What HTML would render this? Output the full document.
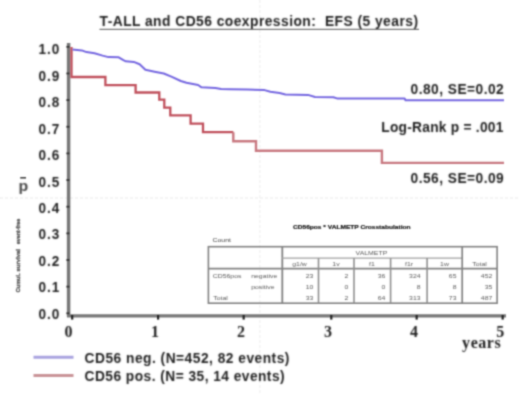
<!DOCTYPE html>
<html><head><meta charset="utf-8"><style>
html,body{margin:0;padding:0;background:#fff;}
body{width:520px;height:394px;overflow:hidden;}
svg{display:block;font-family:"Liberation Sans",sans-serif;}
</style></head><body>
<svg width="520" height="394" viewBox="0 0 520 394">
<defs><filter id="gb" x="0" y="0" width="520" height="394" filterUnits="userSpaceOnUse" primitiveUnits="userSpaceOnUse" color-interpolation-filters="sRGB"><feConvolveMatrix order="5" kernelMatrix="0.00009 0.00198 0.00548 0.00198 0.00009 0.00198 0.04220 0.11707 0.04220 0.00198 0.00548 0.11707 0.32480 0.11707 0.00548 0.00198 0.04220 0.11707 0.04220 0.00198 0.00009 0.00198 0.00548 0.00198 0.00009" edgeMode="duplicate"/></filter><filter id="tb" x="0" y="0" width="520" height="394" filterUnits="userSpaceOnUse" primitiveUnits="userSpaceOnUse" color-interpolation-filters="sRGB"><feConvolveMatrix order="5" kernelMatrix="0.00000 0.00003 0.00021 0.00003 0.00000 0.00003 0.01133 0.08373 0.01133 0.00003 0.00021 0.08373 0.61869 0.08373 0.00021 0.00003 0.01133 0.08373 0.01133 0.00003 0.00000 0.00003 0.00021 0.00003 0.00000" edgeMode="duplicate"/></filter></defs>
<g filter="url(#gb)">
<rect width="520" height="394" fill="#fff"/>
<line x1="0" y1="198" x2="520" y2="198" stroke="#e9e9e9" stroke-width="1.2" stroke-dasharray="3 2"/>
<line x1="259.8" y1="0" x2="259.8" y2="394" stroke="#f0f0f0" stroke-width="1.2" stroke-dasharray="3 2"/>
<line x1="99.5" y1="29.4" x2="419" y2="29.4" stroke="#777" stroke-width="1.4"/>
<line x1="68.6" y1="43" x2="68.6" y2="317" stroke="#787878" stroke-width="3.5"/>
<line x1="67" y1="315.9" x2="506" y2="315.9" stroke="#787878" stroke-width="3.2"/>
<line x1="66.4" y1="46.80" x2="69.4" y2="46.80" stroke="#333" stroke-width="1.8"/>
<line x1="66.4" y1="73.45" x2="69.4" y2="73.45" stroke="#333" stroke-width="1.8"/>
<line x1="66.4" y1="100.10" x2="69.4" y2="100.10" stroke="#333" stroke-width="1.8"/>
<line x1="66.4" y1="126.75" x2="69.4" y2="126.75" stroke="#333" stroke-width="1.8"/>
<line x1="66.4" y1="153.40" x2="69.4" y2="153.40" stroke="#333" stroke-width="1.8"/>
<line x1="66.4" y1="180.05" x2="69.4" y2="180.05" stroke="#333" stroke-width="1.8"/>
<line x1="66.4" y1="206.70" x2="69.4" y2="206.70" stroke="#333" stroke-width="1.8"/>
<line x1="66.4" y1="233.35" x2="69.4" y2="233.35" stroke="#333" stroke-width="1.8"/>
<line x1="66.4" y1="260.00" x2="69.4" y2="260.00" stroke="#333" stroke-width="1.8"/>
<line x1="66.4" y1="286.65" x2="69.4" y2="286.65" stroke="#333" stroke-width="1.8"/>
<line x1="66.4" y1="313.30" x2="69.4" y2="313.30" stroke="#333" stroke-width="1.8"/>
<line x1="72.20" y1="315" x2="72.20" y2="319.6" stroke="#222" stroke-width="2.2"/>
<line x1="158.10" y1="315" x2="158.10" y2="319.6" stroke="#222" stroke-width="2.2"/>
<line x1="243.65" y1="315" x2="243.65" y2="319.6" stroke="#222" stroke-width="2.2"/>
<line x1="331.30" y1="315" x2="331.30" y2="319.6" stroke="#222" stroke-width="2.2"/>
<line x1="416.65" y1="315" x2="416.65" y2="319.6" stroke="#222" stroke-width="2.2"/>
<line x1="502.65" y1="315" x2="502.65" y2="319.6" stroke="#222" stroke-width="2.2"/>
<line x1="20.2" y1="177.8" x2="26" y2="177.8" stroke="#444" stroke-width="1.6"/>
<g transform="translate(19.8,292.2) rotate(-90)"><text x="0" y="0" font-size="5.5" font-weight="700" fill="#666" stroke="#666" stroke-width="0.45">Cumul.</text></g>
<g transform="translate(19.8,271.5) rotate(-90)"><text x="0" y="0" font-size="5.95" font-weight="700" fill="#666" stroke="#666" stroke-width="0.45">survival</text></g>
<g transform="translate(19.8,244.2) rotate(-90)"><text x="0" y="0" font-size="5.3" font-weight="700" fill="#666" stroke="#666" stroke-width="0.45">event-free</text></g>
<path d="M71.5,47 V77 H105.4 V85.2 H135.6 V92.5 H159.3 V99.6 H164.3 V107.6 H170.3 V115.4 H190.6 V123.7 H203 V132.2 H233.3" fill="none" stroke="#c0505c" stroke-width="2.3"/>
<path d="M233.3,132.2 V141.2 H256 V150.8 H381.9 V162.9 H504" fill="none" stroke="#c87880" stroke-width="2.4"/>
<path d="M72.5,49.5 L81.8,50.4 L86.5,52.1 L94.5,53.3 L102.6,55.6 L108.4,57.1 L118.7,57.3 L123.4,60.2 L125.8,61.3 L133.8,61.9 L139.6,64.2 L145.4,69.8 L154.6,71.7 L163.8,73.5 L171.9,76.9 L180.8,81 L186.5,82.7 L198.1,85 L201.5,87.3 L215.4,87.9 L221.1,89 L230,89.2 L247.3,89.5 L264.6,90.1 L270.4,91.8 L279.6,93 L285.4,94.5 L308,94.9 L315,97 L333.4,97.2 L337,98.4 L404.6,98.4 L405.5,100.3 L504,100.3" fill="none" stroke="#7466e0" stroke-width="2.0" stroke-linejoin="round"/>
<line x1="33.5" y1="357.3" x2="73.5" y2="357.3" stroke="#aaa4e0" stroke-width="3"/>
<line x1="33.5" y1="375.4" x2="73.5" y2="375.4" stroke="#c99498" stroke-width="3"/>
<text transform="translate(212.5,242) scale(1,0.85)" font-size="6.9" fill="#444">Count</text>
<text transform="translate(293,229.0) scale(1,0.85)" font-size="6.6" fill="#111" font-weight="700" stroke="#111" stroke-width="0.2">CD56pos * VALMETP Crosstabulation</text>
<rect x="208.4" y="246.7" width="288.7" height="56.5" fill="none" stroke="#828282" stroke-width="1.6"/>
<line x1="208.4" y1="268.6" x2="497.1" y2="268.6" stroke="#828282" stroke-width="1.8"/>
<line x1="282.3" y1="246.7" x2="282.3" y2="303.2" stroke="#828282" stroke-width="1.8"/>
<line x1="282" y1="258.1" x2="462.2" y2="258.1" stroke="#a0a0a0" stroke-width="1.4"/>
<line x1="318.5" y1="258.1" x2="318.5" y2="303.2" stroke="#909090" stroke-width="1.6"/>
<line x1="354" y1="258.1" x2="354" y2="303.2" stroke="#909090" stroke-width="1.6"/>
<line x1="390.6" y1="258.1" x2="390.6" y2="303.2" stroke="#909090" stroke-width="1.6"/>
<line x1="427.1" y1="258.1" x2="427.1" y2="303.2" stroke="#909090" stroke-width="1.6"/>
<line x1="462.2" y1="247" x2="462.2" y2="303.2" stroke="#828282" stroke-width="1.7"/>
<text transform="translate(355.6,255) scale(1,0.85)" font-size="6.9" fill="#5a5a5a">VALMETP</text>
<text transform="translate(299.5,265.5) scale(1,0.85)" font-size="6.9" fill="#5a5a5a" text-anchor="middle">g1/w</text>
<text transform="translate(336,265.5) scale(1,0.85)" font-size="6.9" fill="#5a5a5a" text-anchor="middle">1v</text>
<text transform="translate(372,265.5) scale(1,0.85)" font-size="6.9" fill="#5a5a5a" text-anchor="middle">f1</text>
<text transform="translate(409,265.5) scale(1,0.85)" font-size="6.9" fill="#5a5a5a" text-anchor="middle">f1r</text>
<text transform="translate(444.5,265.5) scale(1,0.85)" font-size="6.9" fill="#5a5a5a" text-anchor="middle">1w</text>
<text transform="translate(479.6,266) scale(1,0.85)" font-size="6.9" fill="#5a5a5a" text-anchor="middle">Total</text>
<text transform="translate(212.7,277.7) scale(1,0.85)" font-size="6.9" fill="#5a5a5a">CD56pos</text>
<text transform="translate(251.2,277.7) scale(1,0.85)" font-size="6.9" fill="#5a5a5a">negative</text>
<text transform="translate(251.2,288.8) scale(1,0.85)" font-size="6.9" fill="#5a5a5a">positive</text>
<text transform="translate(213.3,299.8) scale(1,0.85)" font-size="6.9" fill="#5a5a5a">Total</text>
<text transform="translate(313.3,277.7) scale(1,0.85)" font-size="6.9" fill="#5a5a5a" text-anchor="end">23</text>
<text transform="translate(348.3,277.7) scale(1,0.85)" font-size="6.9" fill="#5a5a5a" text-anchor="end">2</text>
<text transform="translate(385.3,277.7) scale(1,0.85)" font-size="6.9" fill="#5a5a5a" text-anchor="end">36</text>
<text transform="translate(420.6,277.7) scale(1,0.85)" font-size="6.9" fill="#5a5a5a" text-anchor="end">324</text>
<text transform="translate(456.5,277.7) scale(1,0.85)" font-size="6.9" fill="#5a5a5a" text-anchor="end">65</text>
<text transform="translate(492.3,277.7) scale(1,0.85)" font-size="6.9" fill="#5a5a5a" text-anchor="end">452</text>
<text transform="translate(313.3,288.9) scale(1,0.85)" font-size="6.9" fill="#5a5a5a" text-anchor="end">10</text>
<text transform="translate(348.3,288.9) scale(1,0.85)" font-size="6.9" fill="#5a5a5a" text-anchor="end">0</text>
<text transform="translate(385.3,288.9) scale(1,0.85)" font-size="6.9" fill="#5a5a5a" text-anchor="end">0</text>
<text transform="translate(420.6,288.9) scale(1,0.85)" font-size="6.9" fill="#5a5a5a" text-anchor="end">8</text>
<text transform="translate(456.5,288.9) scale(1,0.85)" font-size="6.9" fill="#5a5a5a" text-anchor="end">8</text>
<text transform="translate(492.3,288.9) scale(1,0.85)" font-size="6.9" fill="#5a5a5a" text-anchor="end">35</text>
<text transform="translate(313.3,300.1) scale(1,0.85)" font-size="6.9" fill="#5a5a5a" text-anchor="end">33</text>
<text transform="translate(348.3,300.1) scale(1,0.85)" font-size="6.9" fill="#5a5a5a" text-anchor="end">2</text>
<text transform="translate(385.3,300.1) scale(1,0.85)" font-size="6.9" fill="#5a5a5a" text-anchor="end">64</text>
<text transform="translate(420.6,300.1) scale(1,0.85)" font-size="6.9" fill="#5a5a5a" text-anchor="end">313</text>
<text transform="translate(456.5,300.1) scale(1,0.85)" font-size="6.9" fill="#5a5a5a" text-anchor="end">73</text>
<text transform="translate(492.3,300.1) scale(1,0.85)" font-size="6.9" fill="#5a5a5a" text-anchor="end">487</text>
<g filter="url(#tb)">
<text transform="translate(99.50,26.10) scale(1.0,1)" font-size="13.8" font-weight="700" textLength="318.50" lengthAdjust="spacing" fill="#1c1c1c" xml:space="preserve">T-ALL and CD56 coexpression:  EFS (5 years)</text>
<text transform="translate(59.40,54.40) scale(0.95,1)" font-size="14.3" font-weight="700" textLength="22.11" lengthAdjust="spacing" fill="#1c1c1c" text-anchor="end" xml:space="preserve">1.0</text>
<text transform="translate(59.40,80.84) scale(0.95,1)" font-size="14.3" font-weight="700" textLength="22.11" lengthAdjust="spacing" fill="#1c1c1c" text-anchor="end" xml:space="preserve">0.9</text>
<text transform="translate(59.40,107.28) scale(0.95,1)" font-size="14.3" font-weight="700" textLength="22.11" lengthAdjust="spacing" fill="#1c1c1c" text-anchor="end" xml:space="preserve">0.8</text>
<text transform="translate(59.40,133.72) scale(0.95,1)" font-size="14.3" font-weight="700" textLength="22.11" lengthAdjust="spacing" fill="#1c1c1c" text-anchor="end" xml:space="preserve">0.7</text>
<text transform="translate(59.40,160.16) scale(0.95,1)" font-size="14.3" font-weight="700" textLength="22.11" lengthAdjust="spacing" fill="#1c1c1c" text-anchor="end" xml:space="preserve">0.6</text>
<text transform="translate(59.40,186.60) scale(0.95,1)" font-size="14.3" font-weight="700" textLength="22.11" lengthAdjust="spacing" fill="#1c1c1c" text-anchor="end" xml:space="preserve">0.5</text>
<text transform="translate(59.40,213.04) scale(0.95,1)" font-size="14.3" font-weight="700" textLength="22.11" lengthAdjust="spacing" fill="#1c1c1c" text-anchor="end" xml:space="preserve">0.4</text>
<text transform="translate(59.40,239.48) scale(0.95,1)" font-size="14.3" font-weight="700" textLength="22.11" lengthAdjust="spacing" fill="#1c1c1c" text-anchor="end" xml:space="preserve">0.3</text>
<text transform="translate(59.40,265.92) scale(0.95,1)" font-size="14.3" font-weight="700" textLength="22.11" lengthAdjust="spacing" fill="#1c1c1c" text-anchor="end" xml:space="preserve">0.2</text>
<text transform="translate(59.40,292.36) scale(0.95,1)" font-size="14.3" font-weight="700" textLength="22.11" lengthAdjust="spacing" fill="#1c1c1c" text-anchor="end" xml:space="preserve">0.1</text>
<text transform="translate(59.40,318.80) scale(0.95,1)" font-size="14.3" font-weight="700" textLength="22.11" lengthAdjust="spacing" fill="#1c1c1c" text-anchor="end" xml:space="preserve">0.0</text>
<text transform="translate(68.60,336.70) scale(1.0,1)" font-family="Liberation Serif, serif" font-size="16" font-weight="700" fill="#1c1c1c" text-anchor="middle" xml:space="preserve">0</text>
<text transform="translate(155.00,336.70) scale(1.0,1)" font-family="Liberation Serif, serif" font-size="16" font-weight="700" fill="#1c1c1c" text-anchor="middle" xml:space="preserve">1</text>
<text transform="translate(241.00,336.70) scale(1.0,1)" font-family="Liberation Serif, serif" font-size="16" font-weight="700" fill="#1c1c1c" text-anchor="middle" xml:space="preserve">2</text>
<text transform="translate(327.90,336.70) scale(1.0,1)" font-family="Liberation Serif, serif" font-size="16" font-weight="700" fill="#1c1c1c" text-anchor="middle" xml:space="preserve">3</text>
<text transform="translate(414.10,336.70) scale(1.0,1)" font-family="Liberation Serif, serif" font-size="16" font-weight="700" fill="#1c1c1c" text-anchor="middle" xml:space="preserve">4</text>
<text transform="translate(500.20,336.70) scale(1.0,1)" font-family="Liberation Serif, serif" font-size="16" font-weight="700" fill="#1c1c1c" text-anchor="middle" xml:space="preserve">5</text>
<text transform="translate(500.70,347.90) scale(1.0,1)" font-family="Liberation Serif, serif" font-size="16" font-weight="700" textLength="38.60" lengthAdjust="spacing" fill="#1c1c1c" text-anchor="end" xml:space="preserve">years</text>
<text transform="translate(18.5,191) scale(1.1,1)" font-size="14.5" font-weight="700" fill="#4a4a4a">p</text>
<text transform="translate(503.70,94.10) scale(0.95,1)" font-size="14.5" font-weight="700" textLength="98.00" lengthAdjust="spacing" fill="#1c1c1c" text-anchor="end" xml:space="preserve">0.80, SE=0.02</text>
<text transform="translate(503.30,131.80) scale(0.95,1)" font-size="14.5" font-weight="700" textLength="128.42" lengthAdjust="spacing" fill="#1c1c1c" text-anchor="end" xml:space="preserve">Log-Rank p = .001</text>
<text transform="translate(503.70,183.20) scale(0.95,1)" font-size="14.5" font-weight="700" textLength="98.00" lengthAdjust="spacing" fill="#1c1c1c" text-anchor="end" xml:space="preserve">0.56, SE=0.09</text>
<text transform="translate(84.60,363.40) scale(0.95,1)" font-size="14.5" font-weight="700" textLength="215.58" lengthAdjust="spacing" fill="#1c1c1c" xml:space="preserve">CD56 neg. (N=452, 82 events)</text>
<text transform="translate(84.60,381.30) scale(0.95,1)" font-size="14.5" font-weight="700" textLength="210.53" lengthAdjust="spacing" fill="#1c1c1c" xml:space="preserve">CD56 pos. (N= 35, 14 events)</text>
</g>
</g>
</svg>
</body></html>
